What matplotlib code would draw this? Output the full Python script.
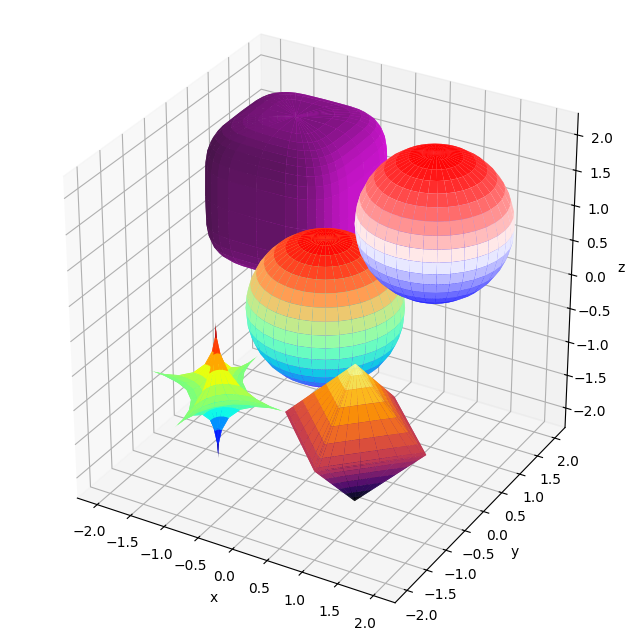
import numpy as np
import matplotlib
matplotlib.use("Agg")
import matplotlib.pyplot as plt

# centre x, y, z of each solid
center_x = [-1, 1, 0, -1, 1]
center_y = [1, 1, 0, -1, -1]
center_z = [1, 1, 0, -1, -1]
# superquadric exponents
exp_lat = [0.5, 1, 1, 4, 2]
exp_lon = [0.5, 1, 1, 4, 2]
cmaps = [None, "bwr", "rainbow", "jet", "inferno"]
solid_color = "m"
x_ticks = [-2.0, -1.5, -1.0, -0.5, 0.0, 0.5, 1.0, 1.5, 2.0]
axis_limits = [-2.3, 2.3]

def fpow(v, e):
    return np.sign(v) * np.abs(v) ** e

fig = plt.figure(figsize=(6.33, 6.41), dpi=100)
ax = fig.add_axes([0.0138, 0.026, 0.974, 0.962], projection="3d")
ax.set_box_aspect((1, 1, 1))

u = np.linspace(-np.pi / 2, np.pi / 2, 19)
v = np.linspace(-np.pi, np.pi, 37)
U, V = np.meshgrid(u, v)
for cx, cy, cz, e1, e2, cm in zip(center_x, center_y, center_z, exp_lat, exp_lon, cmaps):
    X = cx + fpow(np.cos(U), e1) * fpow(np.cos(V), e2)
    Y = cy + fpow(np.cos(U), e1) * fpow(np.sin(V), e2)
    Z = cz + fpow(np.sin(U), e1)
    if cm is None:
        poly = ax.plot_surface(X, Y, Z, color=solid_color, rstride=1, cstride=1)
        # lift the shaded magenta to the paler purple of the reference
        fc = np.array(poly._facecolor3d)
        fc[:, 0] = np.clip(1.15 * fc[:, 0] + 0.02, 0, 1)
        fc[:, 2] = np.clip(1.15 * fc[:, 2] + 0.03, 0, 1)
        fc[:, 1] = 0.08
        poly.set_facecolor(fc)
    else:
        ax.plot_surface(X, Y, Z, cmap=cm, rstride=1, cstride=1)

ax.set_xlim(axis_limits)
ax.set_ylim(axis_limits)
ax.set_zlim(axis_limits)
ax.set_xticks(x_ticks)
ax.set_yticks(x_ticks)
ax.set_zticks(x_ticks)
ax.set_xlabel("x", labelpad=2)
ax.set_ylabel("y", labelpad=2)
ax.set_zlabel("z", labelpad=3)
ax.tick_params(axis="x", pad=2)
ax.tick_params(axis="y", pad=2)
fig.savefig("out.png", dpi=100)
